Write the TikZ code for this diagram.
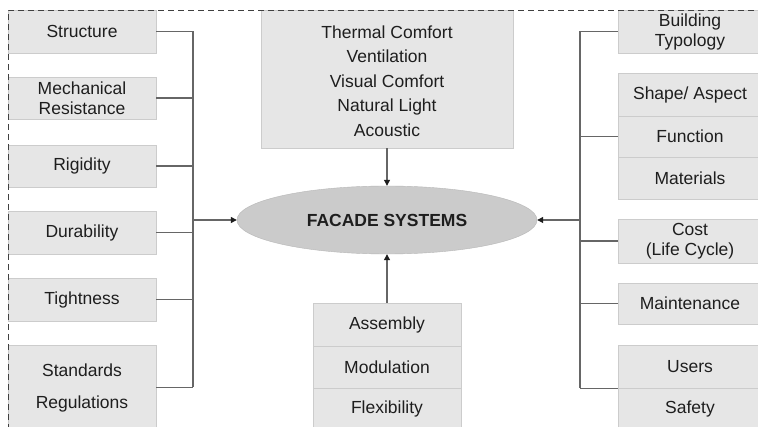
\documentclass[tikz,border=0pt]{standalone}
\usepackage{fontspec}
\setmainfont{Liberation Sans}
\usetikzlibrary{arrows.meta,shapes.geometric}
\definecolor{boxfill}{HTML}{E6E6E6}
\definecolor{boxline}{HTML}{CCCCCC}
\definecolor{ellfill}{HTML}{CBCBCB}
\definecolor{wire}{HTML}{666666}
\definecolor{ink}{HTML}{1E1E1E}
\tikzset{
  item/.style={rectangle, draw=boxline, fill=boxfill, line width=0.9pt,
    inner sep=0pt, minimum width=148pt, text=ink, align=center,
    font=\fontsize{17.5}{20}\selectfont},
  wirel/.style={draw=wire, line width=1.1pt},
  arr/.style={wirel, -{Triangle[color=ink,length=6pt,width=6pt]}},
  frame/.style={draw=ink!85, line width=0.9pt, dash pattern=on 6pt off 4pt}
}
\begin{document}
\begin{tikzpicture}[x=1pt,y=-1pt]
\useasboundingbox (0,0) rectangle (758,427);
\fill[white] (0,0) rectangle (758,427);
\clip (0,0) rectangle (758,427);

% left column of requirements
\node[item, minimum height=43pt] (struct) at (82,31.5) {Structure};
\node[item, minimum height=42pt] (mech) at (82,98) {Mechanical\\Resistance};
\node[item, minimum height=42pt] (rigid) at (82,166) {Rigidity};
\node[item, minimum height=43pt] (durab) at (82,232.5) {Durability};
\node[item, minimum height=43pt] (tight) at (82,299.5) {Tightness};
\node[item, minimum height=85pt, font=\fontsize{17.5}{32}\selectfont] (stand) at (82,387.5) {Standards\\Regulations};

% right column of context factors
\node[item, minimum width=144pt, minimum height=43pt] (typo) at (690,31.5) {Building\\Typology};
\node[item, minimum width=144pt, minimum height=43pt] (shape) at (690,94.5) {Shape/ Aspect};
\node[item, minimum width=144pt, minimum height=41pt] (func) at (690,136.5) {Function};
\node[item, minimum width=144pt, minimum height=42pt] (mater) at (690,178) {Materials};
\node[item, minimum width=144pt, minimum height=44pt] (cost) at (690,241) {Cost\\(Life Cycle)};
\node[item, minimum width=144pt, minimum height=41pt] (maint) at (690,303.5) {Maintenance};
\node[item, minimum width=144pt, minimum height=43pt] (users) at (690,366.5) {Users};
\node[item, minimum width=144pt, minimum height=42pt] (safety) at (690,409) {Safety};

% comfort box on top
\node[item, minimum width=252pt, minimum height=138pt] (comfort) at (387,79) {};
\node[text=ink, align=center, font=\fontsize{17.5}{24.5}\selectfont] (comforttxt) at (387,81)
  {Thermal Comfort\\Ventilation\\Visual Comfort\\Natural Light\\Acoustic};

% construction box below
\node[item, minimum height=43pt] (assem) at (387,324.5) {Assembly};
\node[item, minimum height=42pt] (modul) at (387,367) {Modulation};
\node[item, minimum height=42pt] (flex) at (387,409) {Flexibility};

% central ellipse
\node[ellipse, fill=ellfill, draw=ellfill!90!black, line width=0.4pt,
  minimum width=300pt, minimum height=68pt, inner sep=0pt, text=ink,
  font=\fontsize{17.5}{20}\selectfont\bfseries] (facade) at (387,220) {FACADE SYSTEMS};

% left bus
\coordinate (busL) at (193,220);
\foreach \n in {struct,mech,rigid,durab,tight}
  \draw[wirel] (\n.east) -- (\n.east -| busL);
\draw[wirel] (stand.east) -- (stand.east -| busL);
\draw[wirel] (struct.east -| busL) -- (stand.east -| busL);
\draw[arr] (busL) -- (facade.west);

% right bus
\coordinate (busR) at (580,220);
\foreach \n in {typo,func,cost,maint}
  \draw[wirel] (\n.west) -- (\n.west -| busR);
\draw[wirel] (users.south west) -- (users.south west -| busR);
\draw[wirel] (typo.west -| busR) -- (users.south west -| busR);
\draw[arr] (busR) -- (facade.east);

% vertical links
\draw[arr] (comfort.south) -- (facade.north);
\draw[arr] (assem.north) -- (facade.south);

% dashed frame
\draw[frame] (8,430) -- (8,10) -- (760,10);
\end{tikzpicture}
\end{document}
